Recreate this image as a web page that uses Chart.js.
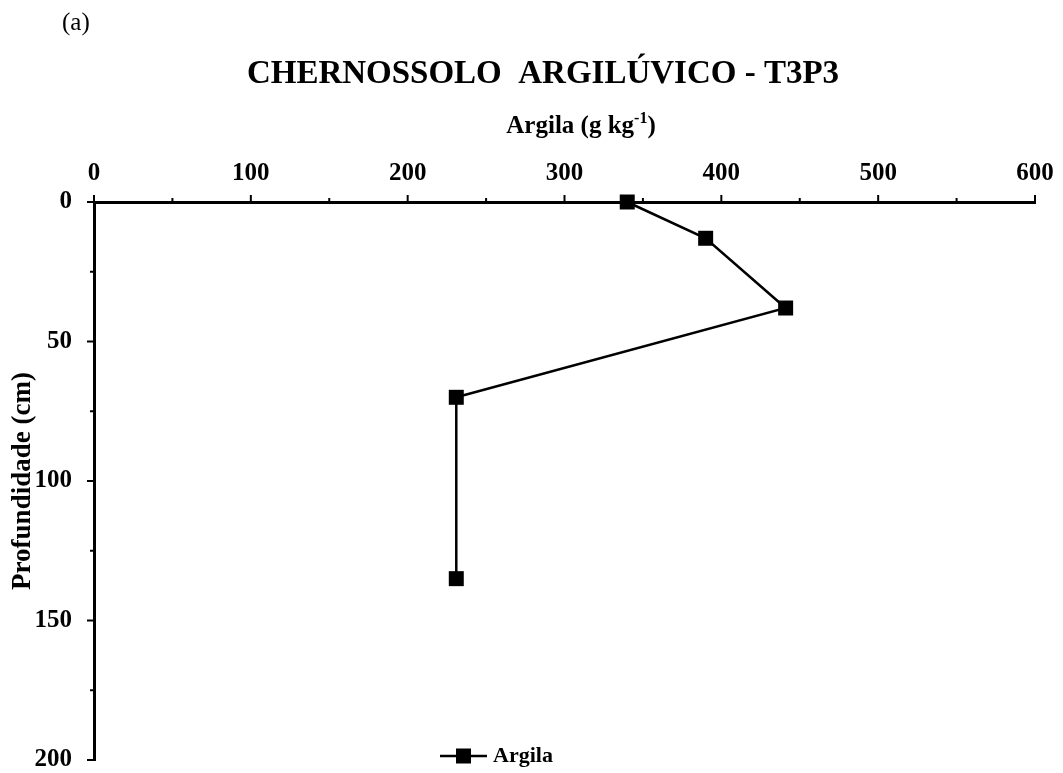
<!DOCTYPE html>
<html>
<head>
<meta charset="utf-8">
<script src="https://cdn.jsdelivr.net/npm/chart.js@4/dist/chart.umd.min.js"></script>
<style>
  html, body { margin: 0; padding: 0; background: #fff; }
  #wrap { width: 1063px; height: 773px; }
</style>
</head>
<body>
<div id="wrap"><canvas id="soilChart" width="1063" height="773"></canvas></div>
<script>
// clay content (g/kg) vs depth (cm)
const argila = [340, 390, 441, 231, 231];
const profundidade = [0, 13, 38, 70, 135];
const xTicks = [0, 100, 200, 300, 400, 500, 600];
const yTicks = [0, 50, 100, 150, 200];

const serif = "'Liberation Serif', 'Times New Roman', serif";

// minor ticks, titles and legend drawn on top
const extras = {
  id: 'extras',
  afterDraw(chart) {
    const ctx = chart.ctx;
    const xs = chart.scales.x, ys = chart.scales.y;
    const area = chart.chartArea;
    ctx.save();
    ctx.strokeStyle = '#000';
    ctx.lineWidth = 2;
    // x ticks (pointing up)
    for (let v = 0; v <= 600; v += 50) {
      const px = xs.getPixelForValue(v);
      const len = v % 100 === 0 ? 7 : 4;
      ctx.beginPath();
      ctx.moveTo(px, area.top);
      ctx.lineTo(px, area.top - len);
      ctx.stroke();
    }
    // y ticks (pointing left)
    for (let v = 0; v <= 200; v += 25) {
      const py = ys.getPixelForValue(v);
      const len = v % 50 === 0 ? 7 : 4;
      ctx.beginPath();
      ctx.moveTo(area.left, py);
      ctx.lineTo(area.left - len, py);
      ctx.stroke();
    }

    ctx.fillStyle = '#000';
    ctx.textBaseline = 'middle';
    // panel letter
    ctx.font = "25px " + serif;
    ctx.textAlign = 'left';
    ctx.fillText('(a)', 62, 23);

    // title
    ctx.font = "bold 33px " + serif;
    ctx.textAlign = 'center';
    ctx.fillText('CHERNOSSOLO  ARGILÚVICO - T3P3', 543, 74);

    // x axis title with superscript
    const a = 'Argila (g kg', b = '-1', c = ')';
    ctx.font = "bold 25px " + serif;
    const wa = ctx.measureText(a).width;
    const wc = ctx.measureText(c).width;
    ctx.font = "bold 16px " + serif;
    const wb = ctx.measureText(b).width;
    let sx = 581 - (wa + wb + wc) / 2;
    ctx.textAlign = 'left';
    ctx.font = "bold 25px " + serif;
    ctx.fillText(a, sx, 127);
    ctx.font = "bold 16px " + serif;
    ctx.fillText(b, sx + wa, 119);
    ctx.font = "bold 25px " + serif;
    ctx.fillText(c, sx + wa + wb, 127);

    // y axis title
    ctx.save();
    ctx.translate(23, (area.top + area.bottom) / 2);
    ctx.rotate(-Math.PI / 2);
    ctx.textAlign = 'center';
    ctx.font = "bold 27px " + serif;
    ctx.fillText('Profundidade (cm)', 0, 0);
    ctx.restore();

    // legend
    const ly = 756;
    ctx.lineWidth = 2.5;
    ctx.beginPath();
    ctx.moveTo(440, ly);
    ctx.lineTo(487, ly);
    ctx.stroke();
    ctx.fillRect(456, ly - 7.5, 15, 15);
    ctx.font = "bold 22px " + serif;
    ctx.textAlign = 'left';
    ctx.fillText('Argila', 493, ly);
    ctx.restore();
  }
};

new Chart(document.getElementById('soilChart'), {
  type: 'line',
  data: {
    datasets: [{
      label: 'Argila',
      data: argila.map((v, i) => ({ x: v, y: profundidade[i] })),
      borderColor: '#000',
      backgroundColor: '#000',
      borderWidth: 2.5,
      pointStyle: 'rect',
      pointRadius: 10.6,
      pointHoverRadius: 10.6,
      pointBorderWidth: 0,
      tension: 0
    }]
  },
  options: {
    responsive: false,
    animation: false,
    clip: false,
    layout: { padding: { left: 0, top: 0, right: 28, bottom: 13 } },
    plugins: {
      legend: { display: false },
      tooltip: { enabled: false }
    },
    scales: {
      x: {
        type: 'linear',
        position: 'top',
        min: 0,
        max: 600,
        afterFit: s => { s.height = 202; s.paddingLeft = 0; s.paddingRight = 0; },
        afterBuildTicks: s => { s.ticks = xTicks.map(v => ({ value: v })); },
        grid: { display: false },
        border: { display: true, color: '#000', width: 3 },
        ticks: {
          color: '#000',
          padding: 5,
          font: { family: serif, size: 25, weight: 'bold' },
          maxRotation: 0
        }
      },
      y: {
        type: 'linear',
        reverse: true,
        min: 0,
        max: 200,
        afterFit: s => { s.width = 94; s.paddingTop = 0; s.paddingBottom = 0; },
        afterBuildTicks: s => { s.ticks = yTicks.map(v => ({ value: v })); },
        grid: { display: false },
        border: { display: true, color: '#000', width: 3 },
        ticks: {
          color: '#000',
          padding: 14,
          font: { family: serif, size: 25, weight: 'bold' }
        }
      }
    }
  },
  plugins: [extras]
});
</script>
</body>
</html>
